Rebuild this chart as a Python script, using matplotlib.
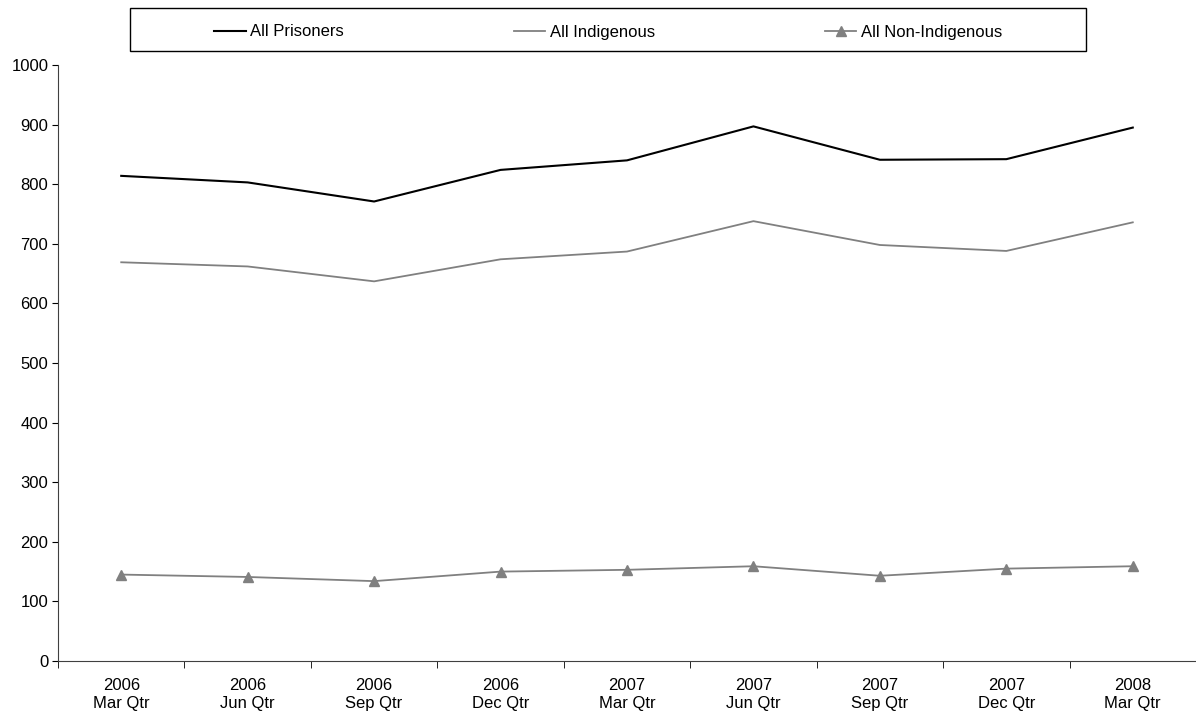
import numpy as np
import matplotlib
matplotlib.use("Agg")
import matplotlib.pyplot as plt
from matplotlib.patches import Rectangle

plt.rcParams['font.family'] = ['Liberation Sans', 'DejaVu Sans']

quarters = ["2006\nMar Qtr", "2006\nJun Qtr", "2006\nSep Qtr", "2006\nDec Qtr",
            "2007\nMar Qtr", "2007\nJun Qtr", "2007\nSep Qtr", "2007\nDec Qtr",
            "2008\nMar Qtr"]
all_prisoners = [814, 803, 771, 824, 840, 897, 841, 842, 895]
all_indigenous = [669, 662, 637, 674, 687, 738, 698, 688, 736]
all_non_indigenous = [145, 141, 134, 150, 153, 159, 143, 155, 159]

fs = 12
W, H = 1196, 718
fig = plt.figure(figsize=(W/100, H/100), dpi=100)
ax = fig.add_axes([58/W, 1-661/H, 1-58/W, (661-65)/H])

x = np.arange(len(quarters))
ax.plot(x, all_prisoners, color='black', lw=1.5, label='All Prisoners')
ax.plot(x, all_indigenous, color='#808080', lw=1.3, label='All Indigenous')
ax.plot(x, all_non_indigenous, color='#808080', lw=1.3, marker='^', ms=6.5,
        label='All Non-Indigenous')

ax.set_xlim(-0.5, len(quarters) - 0.5)
ax.set_ylim(0, 1000)
ax.set_yticks(range(0, 1001, 100))
ax.tick_params(axis='y', labelsize=fs, length=4, direction='out', pad=3)

ax.set_xticks(x)
ax.set_xticklabels(quarters, fontsize=fs, linespacing=1.3)
ax.set_xticks(np.arange(-0.5, len(quarters), 1), minor=True)
ax.tick_params(axis='x', which='major', length=0, pad=12)
ax.tick_params(axis='x', which='minor', length=5, direction='out')

for s in ['top', 'right']:
    ax.spines[s].set_visible(False)
for s in ['left', 'bottom']:
    ax.spines[s].set_color('#404040')

# legend box
fig.patches.append(Rectangle((130/W, 1-51/H), (1086-130)/W, 43/H,
                             transform=fig.transFigure, fill=False,
                             edgecolor='black', lw=1.0))
leg = fig.legend(loc='center', ncol=3, bbox_to_anchor=(608/W, 1-32/H),
                 frameon=False, fontsize=fs, handlelength=1.9,
                 handletextpad=0.25, columnspacing=10.2, borderaxespad=0)

fig.savefig('out.png', dpi=100)
